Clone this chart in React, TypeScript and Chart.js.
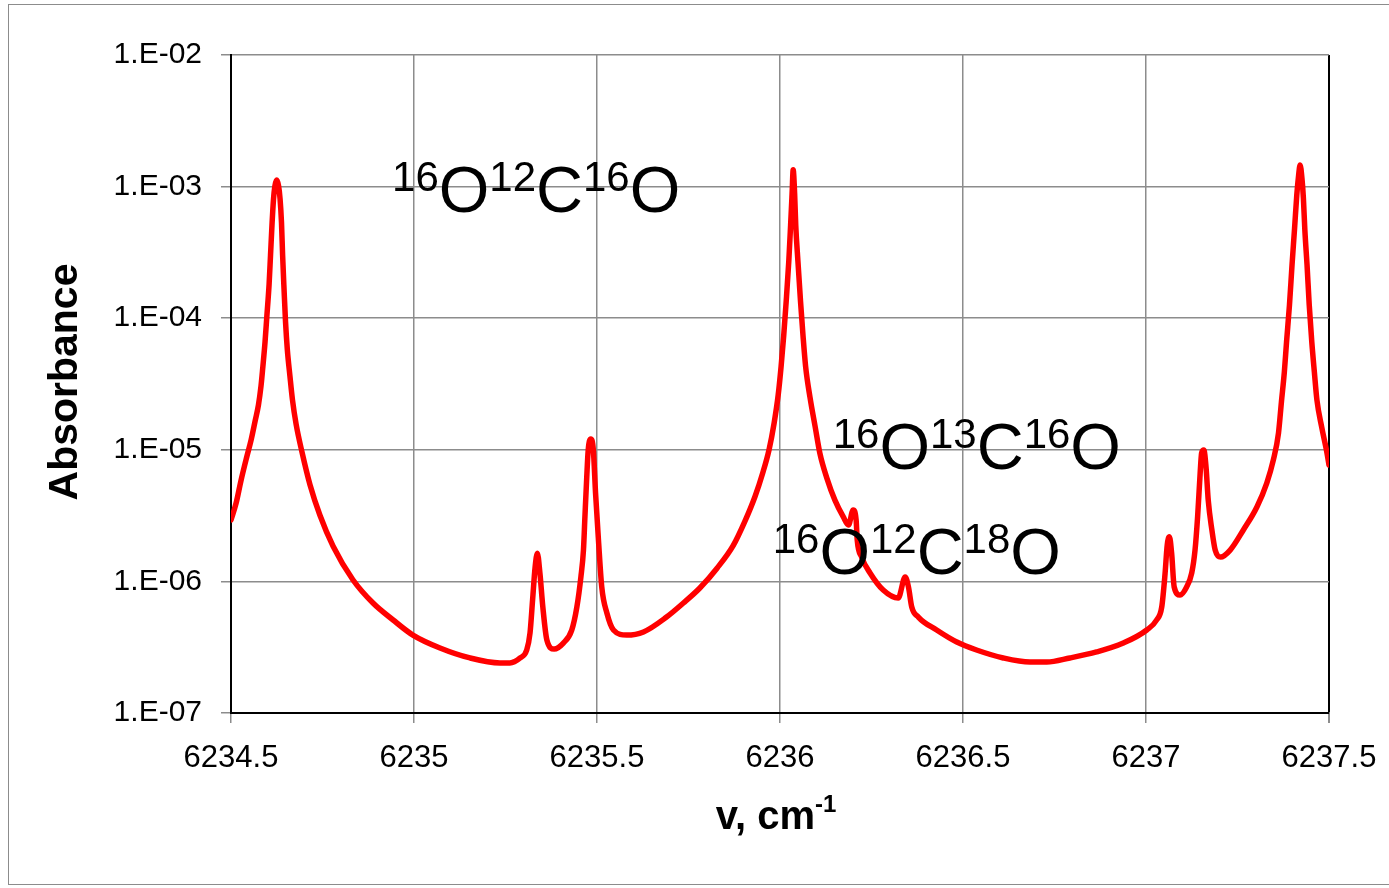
import { useEffect, useRef } from "react";
import { Chart, registerables } from "chart.js";

Chart.register(...registerables);

const FONT = "'Liberation Sans', Arial, Helvetica, sans-serif";

// wavenumber (cm-1)
const wavenumbers = [
  6234.5, 6234.514, 6234.527, 6234.543, 6234.555, 6234.566, 6234.575, 6234.582, 6234.587, 6234.593,
  6234.598, 6234.604, 6234.608, 6234.612, 6234.616, 6234.62, 6234.625, 6234.63, 6234.634, 6234.638,
  6234.641, 6234.645, 6234.649, 6234.654, 6234.661, 6234.668, 6234.678, 6234.694, 6234.716, 6234.743,
  6234.779, 6234.833, 6234.888, 6234.943, 6234.997, 6235.071, 6235.153, 6235.235, 6235.262, 6235.29,
  6235.308, 6235.317, 6235.324, 6235.331, 6235.337, 6235.344, 6235.352, 6235.363, 6235.383, 6235.408,
  6235.431, 6235.445, 6235.456, 6235.463, 6235.467, 6235.472, 6235.476, 6235.483, 6235.49, 6235.496,
  6235.504, 6235.513, 6235.527, 6235.545, 6235.581, 6235.627, 6235.69, 6235.736, 6235.781, 6235.828,
  6235.872, 6235.904, 6235.932, 6235.953, 6235.97, 6235.984, 6235.995, 6236.003, 6236.01, 6236.017,
  6236.024, 6236.029, 6236.033, 6236.036, 6236.04, 6236.043, 6236.049, 6236.056, 6236.063, 6236.07,
  6236.082, 6236.096, 6236.109, 6236.128, 6236.15, 6236.173, 6236.187, 6236.2, 6236.208, 6236.211,
  6236.223, 6236.246, 6236.282, 6236.323, 6236.342, 6236.351, 6236.36, 6236.378, 6236.428, 6236.483,
  6236.537, 6236.61, 6236.683, 6236.729, 6236.792, 6236.865, 6236.938, 6237.002, 6237.029, 6237.043,
  6237.052, 6237.058, 6237.064, 6237.07, 6237.077, 6237.093, 6237.111, 6237.125, 6237.134, 6237.141,
  6237.148, 6237.152, 6237.158, 6237.164, 6237.17, 6237.18, 6237.189, 6237.204, 6237.23, 6237.266,
  6237.303, 6237.33, 6237.348, 6237.362, 6237.37, 6237.378, 6237.384, 6237.392, 6237.399, 6237.406,
  6237.412, 6237.417, 6237.421, 6237.426, 6237.43, 6237.434, 6237.44, 6237.446, 6237.453, 6237.46,
  6237.467, 6237.48, 6237.494, 6237.5,
];

// absorbance
const absorbance = [
  2.93e-6, 3.94e-6, 5.79e-6, 8.82e-6, 1.19e-5, 1.66e-5, 2.19e-5, 3.05e-5, 4.26e-5, 6.59e-5,
  1.04e-4, 1.79e-4, 3.02e-4, 5.11e-4, 7.91e-4, 1.01e-3, 1.12e-3, 1.01e-3, 8.1e-4, 5.3e-4,
  3.02e-4, 1.64e-4, 9.36e-5, 5.73e-5, 3.64e-5, 2.39e-5, 1.56e-5, 9.6e-6, 5.4e-6, 3.18e-6,
  1.85e-6, 1.03e-6, 6.85e-7, 5.09e-7, 3.91e-7, 3.12e-7, 2.62e-7, 2.4e-7, 2.4e-7, 2.62e-7,
  3.01e-7, 4.05e-7, 7.22e-7, 1.29e-6, 1.64e-6, 1.16e-6, 6.39e-7, 3.59e-7, 3.06e-7, 3.4e-7,
  4.27e-7, 6.39e-7, 1.08e-6, 1.73e-6, 3.09e-6, 6.21e-6, 9.97e-6, 1.21e-5, 9.97e-6, 4.7e-6,
  2.06e-6, 9.07e-7, 5.75e-7, 4.27e-7, 3.91e-7, 4.13e-7, 5.36e-7, 6.85e-7, 8.91e-7, 1.26e-6,
  1.87e-6, 2.86e-6, 4.44e-6, 6.7e-6, 1.0e-5, 1.6e-5, 2.6e-5, 4.3e-5, 7.3e-5, 1.35e-4,
  2.7e-4, 5.1e-4, 8.8e-4, 1.34e-3, 8.8e-4, 5.1e-4, 2.7e-4, 1.35e-4, 7.3e-5, 4.3e-5,
  2.5e-5, 1.5e-5, 9.4e-6, 6.1e-6, 4.15e-6, 3.09e-6, 2.68e-6, 3.49e-6, 2.93e-6, 2.06e-6,
  1.53e-6, 1.16e-6, 8.6e-7, 7.48e-7, 1.08e-6, 9.07e-7, 6.39e-7, 5.36e-7, 4.27e-7, 3.46e-7,
  3.01e-7, 2.62e-7, 2.44e-7, 2.44e-7, 2.62e-7, 2.91e-7, 3.4e-7, 4.27e-7, 5.09e-7, 6.39e-7,
  1.14e-6, 1.89e-6, 2.18e-6, 1.64e-6, 9.07e-7, 7.88e-7, 9.07e-7, 1.16e-6, 1.73e-6, 3.09e-6,
  6.66e-6, 9.46e-6, 9.97e-6, 7.4e-6, 4.15e-6, 2.46e-6, 1.73e-6, 1.53e-6, 1.73e-6, 2.46e-6,
  3.68e-6, 5.59e-6, 8.37e-6, 1.34e-5, 2.31e-5, 3.9e-5, 6.59e-5, 1.26e-4, 2.54e-4, 4.85e-4,
  8.63e-4, 1.22e-3, 1.46e-3, 1.16e-3, 8.19e-4, 4.68e-4, 2.54e-4, 1.26e-4, 6.59e-5, 3.9e-5,
  2.39e-5, 1.49e-5, 9.62e-6, 7.66e-6,
];

const xTickValues = [6234.5, 6235, 6235.5, 6236, 6236.5, 6237, 6237.5];
const xTickLabels = ["6234.5", "6235", "6235.5", "6236", "6236.5", "6237", "6237.5"];
const yTickValues = [1e-7, 1e-6, 1e-5, 1e-4, 1e-3, 1e-2];
const yTickLabels = ["1.E-07", "1.E-06", "1.E-05", "1.E-04", "1.E-03", "1.E-02"];

const yTitle = "Absorbance";
const xTitle = "v, cm";
const xTitleSup = "-1";

// molecule labels: alternating [superscript, symbol, ...]
const labelTexts = [
  ["16", "O", "12", "C", "16", "O"],
  ["16", "O", "13", "C", "16", "O"],
  ["16", "O", "12", "C", "18", "O"],
];
const labelX = [6234.94, 6236.144, 6235.98];
const labelY = [6.41e-4, 7.15e-6, 1.14e-6];

const overlayPlugin = {
  id: "overlay",
  beforeDraw(chart: any) {
    const ctx = chart.ctx;
    ctx.save();
    ctx.strokeStyle = "#8c8c8c";
    ctx.lineWidth = 1;
    ctx.strokeRect(8.5, 4.5, 1400, 880);
    ctx.restore();
  },
  afterDraw(chart: any) {
    const ctx = chart.ctx;
    const xs = chart.scales.x;
    const ys = chart.scales.y;
    const area = chart.chartArea;
    ctx.save();
    ctx.fillStyle = "#000";
    ctx.textBaseline = "alphabetic";
    ctx.textAlign = "left";
    labelTexts.forEach((parts, i) => {
      let px = xs.getPixelForValue(labelX[i]);
      const py = ys.getPixelForValue(labelY[i]);
      parts.forEach((p, j) => {
        const sup = j % 2 === 0;
        ctx.font = sup ? `42px ${FONT}` : `65px ${FONT}`;
        ctx.fillText(p, px, sup ? py - 21 : py);
        px += ctx.measureText(p).width;
      });
    });

    // y title
    ctx.save();
    ctx.translate(77, (area.top + area.bottom) / 2 - 2);
    ctx.rotate(-Math.PI / 2);
    ctx.textAlign = "center";
    ctx.font = `bold 41px ${FONT}`;
    ctx.fillText(yTitle, 0, 0);
    ctx.restore();

    // x title
    ctx.font = `bold 40px ${FONT}`;
    const w1 = ctx.measureText(xTitle).width;
    ctx.font = `bold 24px ${FONT}`;
    const w2 = ctx.measureText(xTitleSup).width;
    const start = (area.left + area.right) / 2 - 4 - (w1 + w2) / 2;
    ctx.font = `bold 40px ${FONT}`;
    ctx.fillText(xTitle, start, 829);
    ctx.font = `bold 24px ${FONT}`;
    ctx.fillText(xTitleSup, start + w1, 812);
    ctx.restore();
  },
};

export default function App() {
  const canvasRef = useRef<HTMLCanvasElement | null>(null);

  useEffect(() => {
    if (!canvasRef.current) return;
    const gridGray = "#8c8c8c";
    const chart = new Chart(canvasRef.current, {
      type: "line",
      data: {
        datasets: [
          {
            data: wavenumbers.map((x, i) => ({ x, y: absorbance[i] })),
            borderColor: "#ff0000",
            borderWidth: 5.5,
            pointRadius: 0,
            fill: false,
            cubicInterpolationMode: "monotone",
            borderJoinStyle: "round",
            borderCapStyle: "round",
          },
        ],
      },
      options: {
        responsive: false,
        animation: false,
        devicePixelRatio: 1,
        layout: { padding: { left: 0, top: 55, right: 60, bottom: 0 } },
        plugins: { legend: { display: false }, tooltip: { enabled: false } },
        scales: {
          x: {
            type: "linear",
            min: 6234.5,
            max: 6237.5,
            afterBuildTicks: (a: any) => {
              a.ticks = xTickValues.map((v) => ({ value: v }));
            },
            afterFit: (a: any) => {
              a.height = 175;
              a.paddingLeft = 0;
              a.paddingRight = 0;
            },
            ticks: {
              callback: (v: any) => xTickLabels[xTickValues.indexOf(Number(v))] ?? "",
              font: { family: FONT, size: 31 },
              color: "#000",
              padding: 17,
              maxRotation: 0,
              autoSkip: false,
            },
            grid: {
              color: (c: any) => (c.tick && c.tick.value === 6237.5 ? "#000" : gridGray),
              lineWidth: (c: any) => (c.tick && c.tick.value === 6237.5 ? 2 : 1.5),
              tickColor: gridGray,
              tickLength: 10,
            },
            border: { color: "#000", width: 2 },
          },
          y: {
            type: "logarithmic",
            min: 1e-7,
            max: 1e-2,
            afterBuildTicks: (a: any) => {
              a.ticks = yTickValues.map((v) => ({ value: v }));
            },
            afterFit: (a: any) => {
              a.width = 231;
              a.paddingTop = 0;
              a.paddingBottom = 0;
            },
            ticks: {
              callback: (v: any) => {
                const k = yTickValues.findIndex((t) => Math.abs(Math.log10(t) - Math.log10(Number(v))) < 1e-6);
                return k >= 0 ? yTickLabels[k] : "";
              },
              font: { family: FONT, size: 30 },
              color: "#000",
              padding: 19,
              autoSkip: false,
            },
            grid: {
              color: gridGray,
              lineWidth: 1.5,
              tickColor: gridGray,
              tickLength: 10,
            },
            border: { color: "#000", width: 2 },
          },
        },
      } as any,
      plugins: [overlayPlugin],
    });
    return () => chart.destroy();
  }, []);

  return (
    <canvas
      ref={canvasRef}
      width={1389}
      height={888}
      style={{ position: "absolute", left: 0, top: 0, display: "block" }}
    />
  );
}
